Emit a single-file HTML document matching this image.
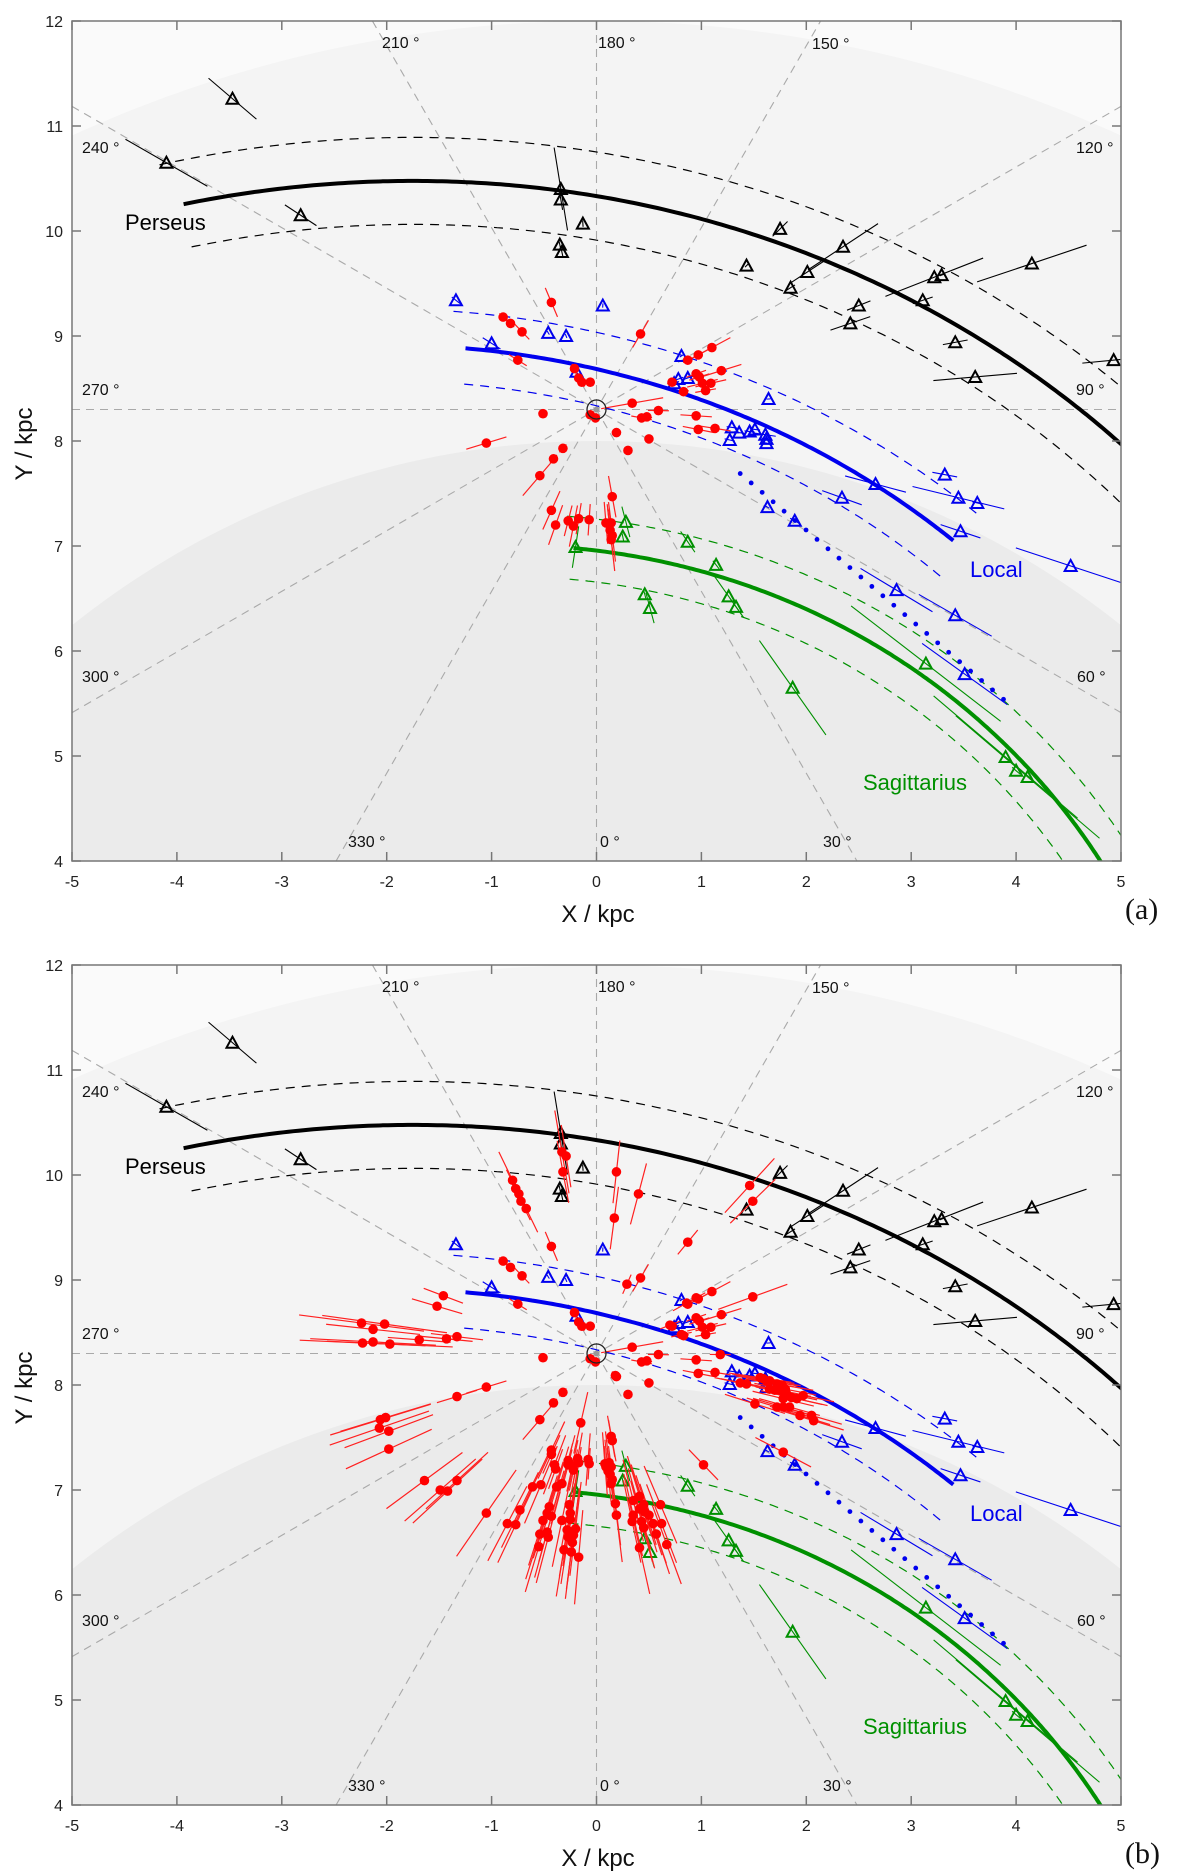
<!DOCTYPE html>
<html><head><meta charset="utf-8"><style>
html,body{margin:0;padding:0;background:#fff;width:1200px;height:1876px;overflow:hidden;}
svg{display:block;font-family:"Liberation Sans",sans-serif;}
</style></head><body>
<svg id="fig" width="1200" height="1876" viewBox="0 0 1200 1876" xmlns="http://www.w3.org/2000/svg"></svg>
<script>
// ---- data (kpc): [x, y, error half-length along line of sight] ----
const perseusMasers = [[-3.47,11.26,0.3],[-4.1,10.65,0.45],[-2.82,10.15,0.18],[-0.34,10.4,0.4],[-0.34,10.3,0.1],[-0.13,10.07,0.03],[-0.35,9.87,0.05],[-0.33,9.8,0.05],[1.75,10.02,0.1],[2.35,9.85,0.4],[1.43,9.67,0.02],[2.01,9.61,0.2],[1.85,9.46,0.05],[3.22,9.56,0.5],[3.29,9.58,0.02],[4.15,9.69,0.55],[3.11,9.34,0.1],[2.5,9.29,0.12],[2.42,9.12,0.2],[3.42,8.94,0.12],[3.61,8.61,0.4],[4.93,8.77,0.3]];
const localMasers = [[-1.34,9.34,0.05],[-1.0,8.93,0.1],[-0.46,9.03,0.02],[-0.29,9.0,0.02],[0.06,9.29,0.02],[-0.19,8.66,0.05],[0.81,8.81,0.02],[0.78,8.59,0.05],[0.87,8.6,0.05],[0.74,8.55,0.05],[1.64,8.4,0.02],[1.29,8.13,0.05],[1.36,8.08,0.05],[1.46,8.09,0.05],[1.51,8.11,0.05],[1.61,8.06,0.1],[1.62,7.98,0.05],[1.62,8.02,0.05],[1.27,8.01,0.05],[3.32,7.68,0.12],[2.66,7.59,0.3],[3.45,7.46,0.45],[3.63,7.41,0.05],[2.34,7.46,0.2],[3.47,7.14,0.2],[1.63,7.37,0.02],[1.89,7.24,0.05],[4.52,6.81,0.55],[2.86,6.58,0.4],[3.42,6.34,0.4],[3.51,5.78,0.5]];
const sagMasers = [[-0.2,6.99,0.2],[0.28,7.23,0.15],[0.25,7.09,0.05],[0.87,7.04,0.12],[1.14,6.82,0.05],[0.46,6.54,0.05],[0.51,6.41,0.15],[1.26,6.52,0.25],[1.33,6.42,0.1],[3.14,5.88,0.9],[1.87,5.65,0.55],[3.9,4.99,0.9],[4.0,4.86,0.05],[4.11,4.8,0.9]];
const starsA = [[-0.43,9.32,0.15],[-0.89,9.18,0.05],[-0.82,9.12,0.05],[-0.71,9.04,0.1],[-0.75,8.77,0.1],[-0.21,8.69,0.05],[-0.17,8.6,0.05],[-0.14,8.56,0.05],[-0.06,8.56,0.03],[0.42,9.02,0.15],[0.34,8.36,0.3],[0.59,8.29,0.1],[0.43,8.22,0.1],[0.48,8.23,0.05],[0.95,8.24,0.15],[0.97,8.11,0.15],[1.13,8.12,0.15],[0.5,8.02,0.03],[0.3,7.91,0.03],[0.19,8.08,0.03],[-0.06,8.25,0.02],[-0.01,8.22,0.02],[-0.51,8.26,0.02],[-1.05,7.98,0.2],[-0.32,7.93,0.05],[-0.41,7.83,0.05],[-0.54,7.67,0.25],[-0.43,7.34,0.2],[-0.39,7.2,0.2],[-0.27,7.24,0.15],[-0.22,7.19,0.2],[-0.17,7.26,0.15],[-0.07,7.25,0.15],[0.15,7.47,0.2],[0.09,7.22,0.2],[0.14,7.22,0.2],[0.13,7.15,0.25],[0.15,7.1,0.25],[0.14,7.06,0.3],[1.1,8.89,0.2],[0.97,8.82,0.1],[0.87,8.77,0.05],[1.19,8.67,0.2],[0.95,8.64,0.1],[0.98,8.61,0.1],[1.09,8.55,0.15],[1.01,8.55,0.15],[1.04,8.48,0.1],[0.83,8.47,0.05],[0.72,8.56,0.05]];
const starsBExtra = [[-0.33,10.22,0.4],[-0.29,10.18,0.3],[-0.32,10.03,0.3],[-0.8,9.95,0.3],[-0.77,9.87,0.2],[-0.74,9.82,0.2],[-0.72,9.75,0.2],[-0.67,9.68,0.25],[0.19,10.03,0.3],[0.4,9.82,0.3],[0.17,9.59,0.3],[0.87,9.36,0.15],[1.46,9.9,0.35],[1.49,9.75,0.3],[1.49,8.84,0.35],[0.29,8.96,0.1],[-1.46,8.85,0.2],[-1.52,8.75,0.25],[-2.24,8.59,0.6],[-2.02,8.58,0.6],[-2.13,8.53,0.45],[-2.23,8.4,0.6],[-2.13,8.41,0.6],[-1.97,8.39,0.6],[-1.69,8.43,0.3],[-1.43,8.44,0.25],[-1.33,8.46,0.25],[0.86,8.78,0.15],[0.95,8.83,0.1],[0.81,8.48,0.1],[0.7,8.57,0.1],[1.18,8.29,0.1],[0.18,8.09,0.05],[-1.33,7.89,0.2],[-2.06,7.67,0.5],[-2.01,7.69,0.45],[-2.07,7.59,0.5],[-1.98,7.56,0.45],[-1.98,7.39,0.45],[-1.64,7.09,0.45],[-1.49,7.0,0.45],[-1.42,6.99,0.45],[-1.33,7.09,0.4],[-1.05,6.78,0.5],[-0.85,6.68,0.4],[-0.77,6.67,0.4],[-0.73,6.81,0.4],[-0.15,7.64,0.3],[0.14,7.51,0.2],[-0.43,7.38,0.3],[-0.4,7.24,0.3],[-0.27,7.28,0.25],[-0.23,7.23,0.25],[-0.18,7.3,0.25],[-0.08,7.29,0.25],[0.08,7.25,0.3],[0.12,7.26,0.3],[0.11,7.18,0.3],[1.02,7.24,0.2],[-0.61,7.03,0.4],[-0.53,7.05,0.4],[-0.38,7.03,0.4],[-0.33,7.06,0.4],[-0.45,6.84,0.45],[-0.47,6.78,0.45],[-0.43,6.75,0.45],[-0.51,6.71,0.45],[-0.54,6.58,0.45],[-0.47,6.6,0.45],[-0.46,6.55,0.45],[-0.55,6.46,0.45],[-0.26,6.86,0.45],[-0.25,6.78,0.45],[-0.25,6.72,0.45],[-0.33,6.71,0.45],[-0.28,6.62,0.45],[-0.2,6.63,0.45],[-0.27,6.55,0.45],[-0.22,6.57,0.45],[-0.23,6.5,0.45],[-0.31,6.43,0.45],[-0.24,6.41,0.45],[-0.17,6.36,0.45],[0.18,6.87,0.4],[0.19,6.76,0.45],[0.35,6.9,0.4],[0.41,6.94,0.4],[0.45,6.86,0.4],[0.41,6.82,0.4],[0.46,6.79,0.4],[0.5,6.76,0.4],[0.35,6.76,0.4],[0.34,6.7,0.4],[0.43,6.7,0.4],[0.54,6.68,0.4],[0.62,6.68,0.4],[0.61,6.86,0.4],[0.45,6.64,0.4],[0.57,6.58,0.4],[0.67,6.48,0.4],[0.41,6.45,0.45],[1.59,8.06,0.3],[1.65,8.04,0.3],[1.72,8.01,0.3],[1.77,8.0,0.3],[1.8,7.96,0.3],[1.75,7.95,0.3],[1.7,7.95,0.3],[1.81,7.92,0.3],[1.78,7.87,0.3],[1.86,7.88,0.3],[1.91,7.87,0.3],[1.97,7.9,0.3],[1.84,7.79,0.3],[1.72,7.79,0.3],[1.78,7.79,0.3],[1.94,7.71,0.3],[2.05,7.71,0.3],[2.07,7.66,0.3],[1.51,7.82,0.3],[1.43,8.01,0.25],[1.37,8.02,0.25],[1.65,7.96,0.3],[1.62,8.04,0.3],[1.56,8.07,0.3],[1.78,7.36,0.3]];
// spiral arm model: [R_ref kpc, beta_ref deg, tan(pitch), beta_start, beta_end, halfWidth]
const perseusArm = [10.98, -20.85, 0.167, -21, 45, 0.42];
const localArm = [8.97, -8.0, 0.231, -8, 25.75, 0.35];
const sagArm = [6.98, -1.6, 0.122, -1.8, 65, 0.3];
const spurStart = [1.37, 7.69];
const spurEnd = [3.88, 5.54];
const xTicks = [-5,-4,-3,-2,-1,0,1,2,3,4,5];
const yTicks = [4,5,6,7,8,9,10,11,12];
const longitudes = [0,30,60,90,120,150,180,210,240,270,300,330];
const sun = [0, 8.3];

const NS = 'http://www.w3.org/2000/svg';
const svg = document.getElementById('fig');
function el(tag, attrs, parent){
  const e = document.createElementNS(NS, tag);
  for (const k in attrs) e.setAttribute(k, attrs[k]);
  (parent||svg).appendChild(e);
  return e;
}
const X0 = 72, X1 = 1121, H = 840;
function makePanel(top, stars, letter, idx){
  const sx = x => 596.5 + x*104.9;
  const sy = y => top + (12 - y)*105;
  const g = el('g', {});
  
  
  const cid = 'clip' + idx;
  const defs = el('defs', {}, g);
  const cp = el('clipPath', {id: cid}, defs);
  el('rect', {x:X0, y:top, width:X1-X0, height:H}, cp);
  const plot = el('g', {'clip-path':'url(#'+cid+')'}, g);
  
  
  el('rect', {x:X0, y:top, width:X1-X0, height:H, fill:'#fafafa'}, plot);
  function zone(R, fill, name){
    const pts = [[X0, top+H]];
    for (let x = -5; x <= 5.0001; x += 0.1){
      const y = Math.min(12, Math.max(4, Math.sqrt(Math.max(0, R*R - x*x))));
      pts.push([sx(x), sy(y)]);
    }
    pts.push([X1, top+H]);
    const p = el('polygon', {points: pts.map(q => q[0].toFixed(1)+','+q[1].toFixed(1)).join(' '), fill}, plot);
    
    
  }
  zone(12, '#f4f4f4', 'outer-zone');
  zone(8, '#ebebeb', 'inner-zone');
  // longitude lines clipped analytically to box [-5,5]x[4,12]
  longitudes.forEach(l => {
    if (l >= 180) return;
    const a = l*Math.PI/180, dx = Math.sin(a), dy = -Math.cos(a);
    let tmin = -1e9, tmax = 1e9;
    if (Math.abs(dx) > 1e-9){ const t1 = (-5-sun[0])/dx, t2 = (5-sun[0])/dx; tmin = Math.max(tmin, Math.min(t1,t2)); tmax = Math.min(tmax, Math.max(t1,t2)); }
    if (Math.abs(dy) > 1e-9){ const t1 = (4-sun[1])/dy, t2 = (12-sun[1])/dy; tmin = Math.max(tmin, Math.min(t1,t2)); tmax = Math.min(tmax, Math.max(t1,t2)); }
    const ln = el('line', {x1:sx(sun[0]+dx*tmin), y1:sy(sun[1]+dy*tmin), x2:sx(sun[0]+dx*tmax), y2:sy(sun[1]+dy*tmax), stroke:'#a9a9a9', 'stroke-width':1.1, 'stroke-dasharray':'8,6'}, plot);
    
    
  });
  function armPath(p, off, b0, b1){
    const pts = [];
    for (let b = b0; b <= b1 + 1e-9; b += 0.25){
      const R = p[0]*Math.exp(-p[2]*(b - p[1])*Math.PI/180) + off;
      const br = b*Math.PI/180;
      const x = R*Math.sin(br), y = R*Math.cos(br);
      if (y < 3.9 || x > 5.1) break;
      pts.push(sx(x).toFixed(1) + ',' + sy(y).toFixed(1));
    }
    return 'M' + pts.join('L');
  }
  function drawArm(p, color, name){
    const c = el('path', {d:armPath(p,0,p[3],p[4]), fill:'none', stroke:color, 'stroke-width':4}, plot);
    
    
    [1,-1].forEach(s => {
      const d = el('path', {d:armPath(p,s*p[5],p[3]-0.4,p[4]+0.7), fill:'none', stroke:color, 'stroke-width':1.2, 'stroke-dasharray':'9,7'}, plot);
      
      
    });
  }
  drawArm(perseusArm, '#000', 'perseus');
  drawArm(localArm, '#0000ee', 'local');
  drawArm(sagArm, '#009000', 'sagittarius');
  const spur = el('g', {fill:'#0000ee'}, plot);
  
  
  const len = Math.hypot(spurEnd[0]-spurStart[0], spurEnd[1]-spurStart[1]);
  const n = Math.round(len/0.135);
  for (let i = 0; i <= n; i++){
    const t = i/n;
    el('circle', {cx:sx(spurStart[0]+(spurEnd[0]-spurStart[0])*t), cy:sy(spurStart[1]+(spurEnd[1]-spurStart[1])*t), r:2.4}, spur);
  }
  function errBar(p, color, w, parent){
    const dx = p[0]-sun[0], dy = p[1]-sun[1], L = Math.hypot(dx,dy)||1;
    const ux = dx/L, uy = dy/L;
    el('line', {x1:sx(p[0]-ux*p[2]), y1:sy(p[1]-uy*p[2]), x2:sx(p[0]+ux*p[2]), y2:sy(p[1]+uy*p[2]), stroke:color, 'stroke-width':w}, parent);
  }
  function triangles(data, color, name){
    const grp = el('g', {}, plot);
    
    
    data.forEach(p => errBar(p, color, 1.1, grp));
    data.forEach(p => {
      const x = sx(p[0]), y = sy(p[1]);
      const t = el('path', {d:`M${x-6},${y+5}L${x+6},${y+5}L${x},${y-6}Z`, fill:'none', stroke:color, 'stroke-width':2}, grp);
      
      
    });
  }
  triangles(perseusMasers, '#000', 'perseus-masers');
  triangles(localMasers, '#0000ee', 'local-masers');
  triangles(sagMasers, '#009000', 'sagittarius-masers');
  const sg = el('g', {}, plot);
  
  
  stars.forEach(p => errBar(p, '#ff2020', 1.2, sg));
  stars.forEach(p => {
    const c = el('circle', {cx:sx(p[0]), cy:sy(p[1]), r:4.8, fill:'#ff0000'}, sg);
    
    
  });
  const sunG = el('g', {}, plot);
  
  
  el('circle', {cx:sx(sun[0]), cy:sy(sun[1]), r:9.5, fill:'none', stroke:'#222', 'stroke-width':1.3}, sunG);
  el('circle', {cx:sx(sun[0]), cy:sy(sun[1]), r:3, fill:'#999'}, sunG);
  const lab = (t, x, y, c, nm) => { const e = el('text', {x, y, fill:c, 'font-size':22}, plot); e.textContent = t;   };
  lab('Perseus', 125, top + 209, '#000', 'perseus-label');
  lab('Local', 970, top + 556, '#0000ee', 'local-label');
  lab('Sagittarius', 863, top + 769, '#009000', 'sagittarius-label');
  const lonPos = {210:[382,27],180:[598,27],150:[812,28],240:[82,132],120:[1076,132],270:[82,374],90:[1076,374],300:[82,661],60:[1077,661],330:[348,826],0:[600,826],30:[823,826]};
  longitudes.forEach(l => {
    const pp = lonPos[l];
    const t = el('text', {x:pp[0], y:top + pp[1], 'font-size':16, fill:'#111'}, plot);
    t.textContent = l + ' °';
    
    
  });
  const fr = el('rect', {x:X0, y:top, width:X1-X0, height:H, fill:'none', stroke:'#777', 'stroke-width':1.5}, g);
  
  
  xTicks.forEach(v => {
    const x = sx(v);
    el('line', {x1:x, y1:top+H, x2:x, y2:top+H-9, stroke:'#777', 'stroke-width':1.5}, g);
    el('line', {x1:x, y1:top, x2:x, y2:top+9, stroke:'#777', 'stroke-width':1.5}, g);
    const t = el('text', {x, y:top+H+26, 'font-size':16, fill:'#222', 'text-anchor':'middle'}, g);
    t.textContent = v;
    
    
  });
  yTicks.forEach(v => {
    const y = sy(v);
    el('line', {x1:X0, y1:y, x2:X0+9, y2:y, stroke:'#777', 'stroke-width':1.5}, g);
    el('line', {x1:X1, y1:y, x2:X1-9, y2:y, stroke:'#777', 'stroke-width':1.5}, g);
    const t = el('text', {x:63, y:y+6, 'font-size':16, fill:'#222', 'text-anchor':'end'}, g);
    t.textContent = v;
    
    
  });
  const xt = el('text', {x:598, y:top+H+61, 'font-size':24, fill:'#111', 'text-anchor':'middle'}, g);
  xt.textContent = 'X / kpc';
  
  
  const yt = el('text', {x:0, y:0, 'font-size':24, fill:'#111', 'text-anchor':'middle', transform:`translate(32,${top+423}) rotate(-90)`}, g);
  yt.textContent = 'Y / kpc';
  
  
  const pl = el('text', {x:1125, y:top+H+58, 'font-size':30, fill:'#111', 'font-family':'"Liberation Serif", serif'}, g);
  pl.textContent = '(' + letter + ')';
  
  
}
makePanel(21, starsA, 'a', 0);
makePanel(965, starsA.concat(starsBExtra), 'b', 1);
</script>
</body></html>
